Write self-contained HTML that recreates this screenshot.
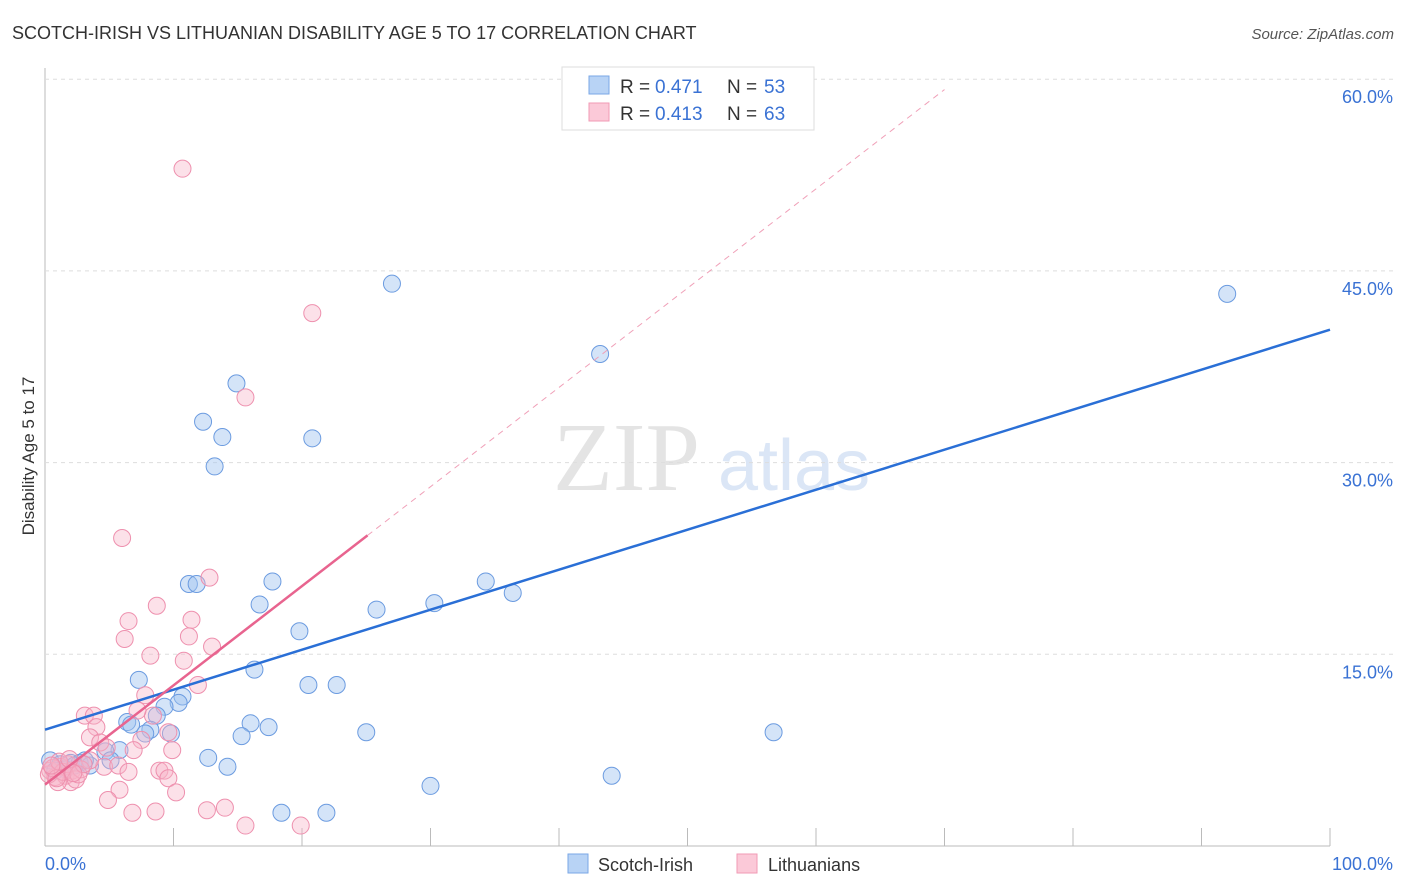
<!DOCTYPE html>
<html><head><meta charset="utf-8"><style>
body{margin:0;background:#fff;font-family:"Liberation Sans",sans-serif;}
svg{display:block}
</style></head><body>
<svg id="chart" width="1406" height="892">
<text x="12" y="39" font-size="18" fill="#333">SCOTCH-IRISH VS LITHUANIAN DISABILITY AGE 5 TO 17 CORRELATION CHART</text>
<text x="1394" y="39" font-size="15" fill="#555" font-style="italic" text-anchor="end">Source: ZipAtlas.com</text>
<text x="553" y="490" font-size="98" fill="#e4e4e4" font-family="Liberation Serif,serif">ZIP</text>
<text x="718" y="490" font-size="72" fill="#dbe6f6">atlas</text>
<text transform="translate(34,456) rotate(-90)" font-size="17" fill="#333" text-anchor="middle">Disability Age 5 to 17</text>
<g id="grid"></g><g id="marks"></g><g id="lines"></g>
<g>
<rect x="562" y="67" width="252" height="63" fill="#fff" stroke="#ddd"/>
<rect x="589" y="76" width="20" height="18" fill="#b8d3f5" stroke="#7aa7e6"/>
<rect x="589" y="103" width="20" height="18" fill="#fbc9d8" stroke="#f29ab5"/>
<text x="620" y="93" font-size="19" fill="#333">R =</text>
<text x="655" y="93" font-size="19" fill="#3a72d4">0.471</text>
<text x="727" y="93" font-size="19" fill="#333">N =</text>
<text x="764" y="93" font-size="19" fill="#3a72d4">53</text>
<text x="620" y="120" font-size="19" fill="#333">R =</text>
<text x="655" y="120" font-size="19" fill="#3a72d4">0.413</text>
<text x="727" y="120" font-size="19" fill="#333">N =</text>
<text x="764" y="120" font-size="19" fill="#3a72d4">63</text>
</g>
<g>
<rect x="568" y="854" width="20" height="19" fill="#b8d3f5" stroke="#7aa7e6"/>
<text x="598" y="871" font-size="18" fill="#333">Scotch-Irish</text>
<rect x="737" y="854" width="20" height="19" fill="#fbc9d8" stroke="#f29ab5"/>
<text x="768" y="871" font-size="18" fill="#333">Lithuanians</text>
</g>
</svg>
<script>
const yTicks=[15,30,45,60];
const yTickLabels=["15.0%","30.0%","45.0%","60.0%"];
const xTickLabels=["0.0%","100.0%"];
const blueX=[27.0,92.0,43.2,14.9,12.3,13.8,20.8,13.2,11.2,11.8,17.7,34.3,36.4,16.7,30.3,25.8,19.8,16.3,20.5,22.7,7.3,10.7,10.4,9.3,8.7,6.4,6.7,16.0,17.4,8.2,7.8,9.8,15.3,25.0,56.7,12.7,14.2,5.8,4.7,5.1,30.0,44.1,18.4,21.9,0.4,1.2,2.0,2.7,3.5,0.8,1.6,2.3,3.1];
const blueY=[44.0,43.2,38.5,36.2,33.2,32.0,31.9,29.7,20.5,20.5,20.7,20.7,19.8,18.9,19.0,18.5,16.8,13.8,12.6,12.6,13.0,11.7,11.2,10.9,10.2,9.7,9.5,9.6,9.3,9.1,8.8,8.8,8.6,8.9,8.9,6.9,6.2,7.5,7.4,6.7,4.7,5.5,2.6,2.6,6.7,6.4,6.5,6.5,6.3,5.9,6.0,6.3,6.7];
const pinkX=[10.7,20.8,15.6,6.0,12.8,8.7,6.5,11.4,11.2,6.2,13.0,8.2,10.8,11.9,7.8,3.1,3.8,8.4,7.2,9.6,4.0,3.5,4.3,7.5,6.9,9.9,4.8,4.6,5.7,6.5,8.9,9.3,9.6,10.2,5.8,4.9,12.6,14.0,6.8,8.6,15.6,19.9,0.4,0.8,1.2,1.6,2.0,2.1,1.0,1.8,3.5,0.3,0.6,1.4,2.4,2.8,1.1,2.6,3.0,0.9,1.9,2.2,0.5];
const pinkY=[53.0,41.7,35.1,24.1,21.0,18.8,17.6,17.7,16.4,16.2,15.6,14.9,14.5,12.6,11.8,10.2,10.2,10.2,10.6,8.9,9.3,8.5,8.1,8.3,7.5,7.5,7.7,6.2,6.3,5.8,5.9,5.9,5.3,4.2,4.4,3.6,2.8,3.0,2.6,2.7,1.6,1.6,5.9,5.4,6.2,5.5,5.0,5.9,5.0,6.4,6.7,5.6,6.1,5.8,5.2,6.0,6.6,5.6,6.4,5.3,6.8,5.7,6.3];
const blueTrend=[9.1,40.4];
const pinkTrend=[4.8,0.777];
const X=v=>45+v*12.85, Y=v=>846-v*12.78;
const NS="http://www.w3.org/2000/svg";
function mk(t,a,p){const e=document.createElementNS(NS,t);for(const k in a)e.setAttribute(k,a[k]);p.appendChild(e);return e;}
const grid=document.getElementById('grid'),marks=document.getElementById('marks'),lines=document.getElementById('lines');
let ax=mk('line',{x1:45,y1:68,x2:45,y2:846,stroke:'#bbb'},grid);


let bx=mk('line',{x1:45,y1:846,x2:1330,y2:846,stroke:'#bbb'},grid);


yTicks.forEach((t,i)=>{
 const g=mk('line',{x1:45,y1:Y(t),x2:1395,y2:Y(t),stroke:'#ddd','stroke-dasharray':'4,4'},grid);
 
 
 const l=mk('text',{x:1393,y:Y(t)+24,'font-size':18,fill:'#3a72d4','text-anchor':'end'},grid);
 l.textContent=yTickLabels[i];
 
 
});
for(let i=1;i<=10;i++){
 const t=mk('line',{x1:X(i*10),y1:828,x2:X(i*10),y2:846,stroke:'#bbb'},grid);
 
 
}
[[0,'start',45],[100,'end',1393]].forEach((d,i)=>{
 const l=mk('text',{x:d[2],y:870,'font-size':18,fill:'#3a72d4','text-anchor':d[1]},grid);
 l.textContent=xTickLabels[i];
 
 
});
blueX.forEach((v,i)=>{
 const c=mk('circle',{cx:X(v),cy:Y(blueY[i]),r:8.5,fill:'rgba(160,195,240,0.45)',stroke:'#6b9be0','stroke-width':1},marks);
 
 
});
pinkX.forEach((v,i)=>{
 const c=mk('circle',{cx:X(v),cy:Y(pinkY[i]),r:8.5,fill:'rgba(248,180,200,0.4)',stroke:'#ee90ae','stroke-width':1},marks);
 
 
});
let bl=mk('line',{x1:X(0),y1:Y(blueTrend[0]),x2:X(100),y2:Y(blueTrend[1]),stroke:'#2a6fd6','stroke-width':2.5},lines);


let pd=mk('line',{x1:X(25.1),y1:Y(pinkTrend[0]+pinkTrend[1]*25.1),x2:X(70),y2:Y(pinkTrend[0]+pinkTrend[1]*70),stroke:'#f0a0b8','stroke-width':1,'stroke-dasharray':'6,5'},lines);


let pl=mk('line',{x1:X(0),y1:Y(pinkTrend[0]),x2:X(25.1),y2:Y(pinkTrend[0]+pinkTrend[1]*25.1),stroke:'#e8648f','stroke-width':2.5},lines);


</script>
</body></html>
